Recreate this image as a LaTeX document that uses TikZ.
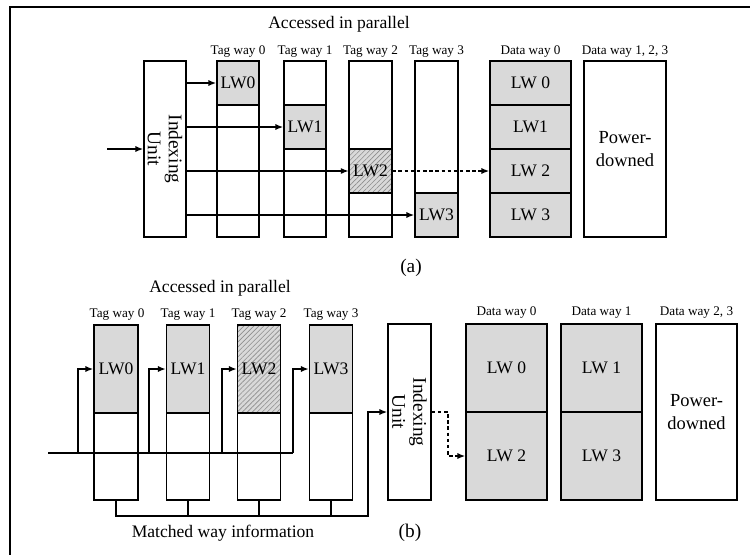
\documentclass[tikz,border=0pt]{standalone}
\usepackage{fontspec}
\setmainfont{Liberation Serif}
\usepackage{xcolor}
\usepackage{tikz}
\usetikzlibrary{arrows.meta,patterns.meta}
\definecolor{cellgray}{HTML}{D9D9D9}
\definecolor{hatchgray}{HTML}{8C8C8C}
\tikzset{
  frameLine/.style={draw=black, line width=1pt},
  box/.style={draw=black, line width=0.8pt, inner sep=0pt, align=center},
  lwCell/.style={box, fill=cellgray, font=\fontsize{10}{12}\selectfont},
  hitCell/.style={box, preaction={fill=cellgray},
    pattern={Lines[angle=45, distance=2pt, line width=0.35pt]}, pattern color=hatchgray,
    font=\fontsize{10}{12}\selectfont},
  unitLbl/.style={rotate=-90, align=center, font=\fontsize{11}{12}\selectfont},
  powerLbl/.style={box, font=\fontsize{10.5}{13}\selectfont},
  wayLbl/.style={font=\fontsize{7.5}{9}\selectfont},
  capLbl/.style={font=\fontsize{10}{12}\selectfont},
  arr/.style={line width=0.8pt, -{Latex[length=4.5pt,width=3.5pt]}},
  dashArr/.style={arr, dash pattern=on 2pt off 1.5pt},
  wire/.style={line width=0.8pt},
}

\begin{document}
\begin{tikzpicture}[x=0.02cm, y=-0.02cm]
  \useasboundingbox (0,0) rectangle (750,555);
  \draw[frameLine] (750,7) -- (10,7) -- (10,555);

  % (a) tags accessed in parallel, one data way
  \node[capLbl] (parA) at (339,24) {Accessed in parallel};
  \node[box, minimum width=0.84cm, minimum height=3.52cm] (idxA) at (165,149) {};
  \node[unitLbl] (idxAlbl) at (idxA) {Indexing\\Unit};
  \coordinate (inA) at (107,149);
  \draw[arr] (inA) -- (idxA.west);

  \node[box, minimum width=0.84cm, minimum height=3.52cm] (tagA0) at (238,149) {};
  \node[box, minimum width=0.84cm, minimum height=3.52cm] (tagA1) at (305,149) {};
  \node[box, minimum width=0.86cm, minimum height=3.52cm] (tagA2) at (370.5,149) {};
  \node[box, minimum width=0.86cm, minimum height=3.52cm] (tagA3) at (436.5,149) {};
  \node[wayLbl] at (238,52) {Tag way 0};
  \node[wayLbl] at (305,52) {Tag way 1};
  \node[wayLbl] at (370.5,52) {Tag way 2};
  \node[wayLbl] at (436.5,52) {Tag way 3};

  \node[lwCell, minimum width=0.84cm, minimum height=0.88cm] (lwA0) at (238,83) {LW0};
  \node[lwCell, minimum width=0.84cm, minimum height=0.88cm] (lwA1) at (305,127) {LW1};
  \node[hitCell, minimum width=0.86cm, minimum height=0.88cm] (lwA2) at (370.5,171) {LW2};
  \node[lwCell, minimum width=0.86cm, minimum height=0.88cm] (lwA3) at (436.5,215) {LW3};

  \draw[arr] (idxA.east |- lwA0) -- (lwA0.west);
  \draw[arr] (idxA.east |- lwA1) -- (lwA1.west);
  \draw[arr] (idxA.east |- lwA2) -- (lwA2.west);
  \draw[arr] (idxA.east |- lwA3) -- (lwA3.west);

  \node[lwCell, minimum width=1.62cm, minimum height=0.88cm] (dA0) at (530.5,83) {LW 0};
  \node[lwCell, minimum width=1.62cm, minimum height=0.88cm] (dA1) at (530.5,127) {LW1};
  \node[lwCell, minimum width=1.62cm, minimum height=0.88cm] (dA2) at (530.5,171) {LW 2};
  \node[lwCell, minimum width=1.62cm, minimum height=0.88cm] (dA3) at (530.5,215) {LW 3};
  \node[powerLbl, minimum width=1.64cm, minimum height=3.52cm] (pwrA) at (625,149) {Power-\\downed};
  \node[wayLbl] at (530.5,52) {Data way 0};
  \node[wayLbl] at (625,52) {Data way 1, 2, 3};
  \draw[dashArr] (lwA2.east) -- (dA2.west);
  \node[capLbl, font=\fontsize{11}{13}\selectfont] (capA) at (411,268) {(a)};

  % (b) tags first, then only the matched data way
  \node[capLbl] (parB) at (220,288) {Accessed in parallel};
  \node[box, minimum width=0.88cm, minimum height=3.5cm] (tagB0) at (116,412.5) {};
  \node[box, minimum width=0.86cm, minimum height=3.5cm] (tagB1) at (188,412.5) {};
  \node[box, minimum width=0.86cm, minimum height=3.5cm] (tagB2) at (259,412.5) {};
  \node[box, minimum width=0.86cm, minimum height=3.5cm] (tagB3) at (331,412.5) {};
  \node[wayLbl] at (117,315) {Tag way 0};
  \node[wayLbl] at (188,315) {Tag way 1};
  \node[wayLbl] at (259,315) {Tag way 2};
  \node[wayLbl] at (331,315) {Tag way 3};

  \node[lwCell, minimum width=0.88cm, minimum height=1.76cm] (lwB0) at (116,369) {LW0};
  \node[lwCell, minimum width=0.86cm, minimum height=1.76cm] (lwB1) at (188,369) {LW1};
  \node[hitCell, minimum width=0.86cm, minimum height=1.76cm] (lwB2) at (259,369) {LW2};
  \node[lwCell, minimum width=0.86cm, minimum height=1.76cm] (lwB3) at (331,369) {LW3};

  \coordinate (busL) at (48,453);
  \coordinate (busR) at (293,453);
  \coordinate (busB0) at (78,453);
  \coordinate (busB1) at (149,453);
  \coordinate (busB2) at (222,453);
  \draw[wire] (busL) -- (busR);
  \draw[arr] (busB0) |- (lwB0.west);
  \draw[arr] (busB1) |- (lwB1.west);
  \draw[arr] (busB2) |- (lwB2.west);
  \draw[arr] (busR) |- (lwB3.west);

  \node[box, minimum width=0.86cm, minimum height=3.52cm] (idxB) at (409.5,412) {};
  \node[unitLbl] (idxBlbl) at (idxB) {Indexing\\Unit};
  \coordinate (mwR) at (368,516);
  \draw[arr] (tagB0.south) |- (mwR) |- (idxB.west);
  \draw[wire] (tagB1.south) -- (tagB1.south |- mwR);
  \draw[wire] (tagB2.south) -- (tagB2.south |- mwR);
  \draw[wire] (tagB3.south) -- (tagB3.south |- mwR);
  \node[capLbl] (mwLbl) at (223,533) {Matched way information};

  \node[lwCell, minimum width=1.62cm, minimum height=1.76cm] (dB0) at (506.5,368) {LW 0};
  \node[lwCell, minimum width=1.62cm, minimum height=1.76cm] (dB2) at (506.5,456) {LW 2};
  \node[lwCell, minimum width=1.62cm, minimum height=1.76cm] (dB1) at (601.5,368) {LW 1};
  \node[lwCell, minimum width=1.62cm, minimum height=1.76cm] (dB3) at (601.5,456) {LW 3};
  \node[powerLbl, minimum width=1.62cm, minimum height=3.52cm] (pwrB) at (696.5,412) {Power-\\downed};
  \node[wayLbl] at (506.5,313) {Data way 0};
  \node[wayLbl] at (601.5,313) {Data way 1};
  \node[wayLbl] at (696.5,313) {Data way 2, 3};
  \coordinate (dshB) at (448,412);
  \draw[dashArr] (idxB.east) -- (dshB) |- (dB2.west);
  \node[capLbl, font=\fontsize{11}{13}\selectfont] (capB) at (410,533) {(b)};
\end{tikzpicture}
\end{document}
